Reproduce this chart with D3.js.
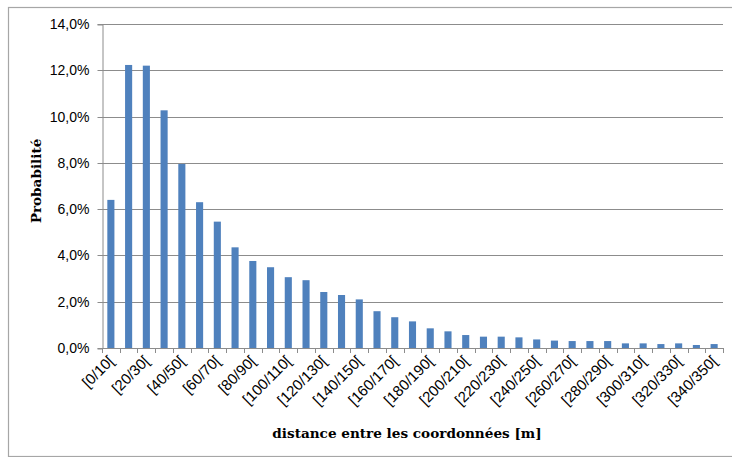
<!DOCTYPE html>
<html>
<head>
  <meta charset="utf-8">
  <style>
    body { margin: 0; background: #fff; }
    .tick text { font-family: "Liberation Sans", Arial, sans-serif; font-size: 14px; fill: #000; }
    .title { font-family: "DejaVu Serif", "Liberation Serif", serif; font-weight: bold; font-size: 13.6px; }
  </style>
</head>
<body>
<div id="chart"></div>
<script src="https://d3js.org/d3.v7.min.js"></script>
<script>
// bins of 10 m, [0/10[ ... [340/350[
const categories = d3.range(0, 350, 10).map(d => "[" + d + "/" + (d + 10) + "[");
const probabilities = [6.40, 12.23, 12.20, 10.27, 7.95, 6.30, 5.46, 4.35, 3.76, 3.49,
  3.06, 2.93, 2.42, 2.29, 2.10, 1.59, 1.33, 1.15, 0.85, 0.72,
  0.56, 0.49, 0.49, 0.46, 0.37, 0.32, 0.30, 0.30, 0.30, 0.20,
  0.20, 0.17, 0.20, 0.13, 0.17];
const yTicks = [0, 2, 4, 6, 8, 10, 12, 14];

const width = 732, height = 457;
const margin = {top: 24, right: 9, bottom: 109, left: 102};

const svg = d3.select('#chart')
  .append('svg')
  .attr('width', width)
  .attr('height', height);

// outer frame
svg.append('rect')
  .attr('x', 8.5).attr('y', 7.5)
  .attr('width', 740).attr('height', 449)
  .attr('fill', 'none')
  .attr('stroke', '#a6a6a6')
  .attr('stroke-width', 1.2);

const x = d3.scaleBand()
  .domain(categories)
  .range([margin.left, width - margin.right])
  .paddingInner(0.6)
  .paddingOuter(0.3);

const y = d3.scaleLinear()
  .domain([0, 14])
  .range([height - margin.bottom, margin.top]);

const fmt = d => d.toFixed(1).replace('.', ',') + '%';

// gridlines
svg.append('g')
  .selectAll('line')
  .data(yTicks.slice(1))
  .enter()
  .append('line')
  .attr('x1', margin.left).attr('x2', width - margin.right)
  .attr('y1', d => Math.round(y(d)) + 0.5).attr('y2', d => Math.round(y(d)) + 0.5)
  .attr('stroke', '#8c8c8c');

// y axis
const yAxis = svg.append('g')
  .attr('transform', 'translate(' + (margin.left + 0.5) + ',0.5)')
  .call(d3.axisLeft(y).tickValues(yTicks).tickFormat(fmt).tickSize(5).tickPadding(8));
yAxis.select('.domain').attr('stroke', '#8c8c8c');
yAxis.selectAll('.tick line').attr('stroke', '#8c8c8c');
yAxis.selectAll('.tick').attr('transform', d => 'translate(0,' + Math.round(y(d)) + ')');

// bars
svg.append('g')
  .selectAll('rect')
  .data(probabilities)
  .enter()
  .append('rect')
  .attr('x', (d, i) => x(categories[i]))
  .attr('width', x.bandwidth())
  .attr('y', d => y(d))
  .attr('height', d => y(0) - y(d))
  .attr('fill', '#4f81bd');

// x axis: ticks between categories
const step = x.step();
const x0 = margin.left;
const xAxis = svg.append('g');
xAxis.append('line')
  .attr('x1', x0).attr('x2', width - margin.right)
  .attr('y1', y(0) + 0.5).attr('y2', y(0) + 0.5)
  .attr('stroke', '#8c8c8c');
xAxis.selectAll('line.tk')
  .data(d3.range(categories.length + 1))
  .enter()
  .append('line')
  .attr('class', 'tk')
  .attr('x1', i => Math.round(x0 + i * step) + 0.5)
  .attr('x2', i => Math.round(x0 + i * step) + 0.5)
  .attr('y1', y(0)).attr('y2', y(0) + 5)
  .attr('stroke', '#8c8c8c');

xAxis.selectAll('text')
  .data(categories.filter((d, i) => i % 2 === 0))
  .enter()
  .append('text')
  .attr('class', 'xl')
  .attr('transform', d => 'translate(' + (x(d) + x.bandwidth() / 2 + 4) + ',' + (y(0) + 14) + ') rotate(-45)')
  .attr('text-anchor', 'end')
  .style('font-family', '"Liberation Sans", Arial, sans-serif')
  .style('font-size', '15px')
  .text(d => d);

// axis titles
svg.append('text')
  .attr('class', 'title')
  .attr('x', 407).attr('y', 438)
  .attr('text-anchor', 'middle')
  .text('distance entre les coordonnées [m]');

svg.append('text')
  .attr('class', 'title')
  .attr('transform', 'translate(41,181) rotate(-90)')
  .attr('text-anchor', 'middle')
  .text('Probabilité');
</script>
</body>
</html>
